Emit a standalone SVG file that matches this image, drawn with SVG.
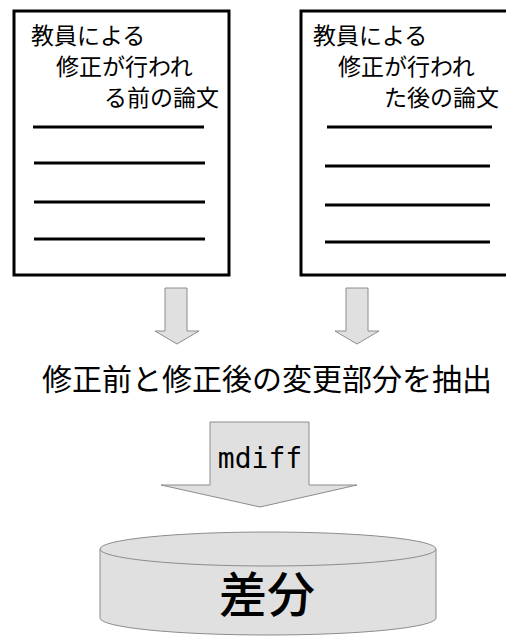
<svg xmlns="http://www.w3.org/2000/svg" width="506" height="636" viewBox="0 0 506 636">
<style>
.doc{fill:#fff;stroke:#000;stroke-width:3}
.ln{stroke:#000;stroke-width:3}
.t{font-family:"Noto Sans CJK JP","Noto Sans",sans-serif;font-size:23px;fill:#000}
.arr{fill:#e0e0e0;stroke:#8c8c8c;stroke-width:1}
</style>
<rect width="506" height="636" fill="#fff"/>
<g id="doc-before">
<rect class="doc" x="14" y="11" width="215" height="264"/>
<text class="t" x="31" y="44">教員による</text>
<text class="t" x="56" y="75">修正が行われ</text>
<text class="t" x="104" y="106">る前の論文</text>
<line class="ln" x1="33" y1="127" x2="204" y2="127"/>
<line class="ln" x1="34" y1="163" x2="205" y2="163"/>
<line class="ln" x1="34" y1="202" x2="205" y2="202"/>
<line class="ln" x1="34" y1="239" x2="205" y2="239"/>
</g>
<g id="doc-after">
<rect class="doc" x="301" y="11" width="220" height="264"/>
<text class="t" x="313" y="44">教員による</text>
<text class="t" x="338" y="75">修正が行われ</text>
<text class="t" x="384" y="106">た後の論文</text>
<line class="ln" x1="327" y1="127" x2="492" y2="127"/>
<line class="ln" x1="325" y1="166" x2="490" y2="166"/>
<line class="ln" x1="325" y1="205" x2="490" y2="205"/>
<line class="ln" x1="325" y1="242" x2="490" y2="242"/>
</g>
<g id="connectors">
<polygon class="arr" points="165,288 187,288 187,331 199,331 177,344 155,331 165,331"/>
<polygon class="arr" points="346,288 368,288 368,331 379,331 357,344 335,331 346,331"/>
</g>
<g id="extract">
<text x="267" y="390" text-anchor="middle" font-family="Noto Sans CJK JP, sans-serif" font-size="30" fill="#000">修正前と修正後の変更部分を抽出</text>
</g>
<g id="mdiff">
<polygon class="arr" points="210,422 309,422 309,485 357,485 260,507 161,485 210,485"/>
<text x="260" y="468" text-anchor="middle" font-family="DejaVu Sans Mono, monospace" font-size="28" fill="#000">mdiff</text>
</g>
<g id="diff-db">
<path class="arr" d="M100,549 L100,618 A168,17 0 0 0 436,618 L436,549"/>
<ellipse class="arr" cx="268" cy="549" rx="168" ry="17"/>
<text x="267" y="612" text-anchor="middle" font-family="Noto Sans CJK JP, sans-serif" font-size="48" font-weight="500" fill="#000">差分</text>
</g>
</svg>
